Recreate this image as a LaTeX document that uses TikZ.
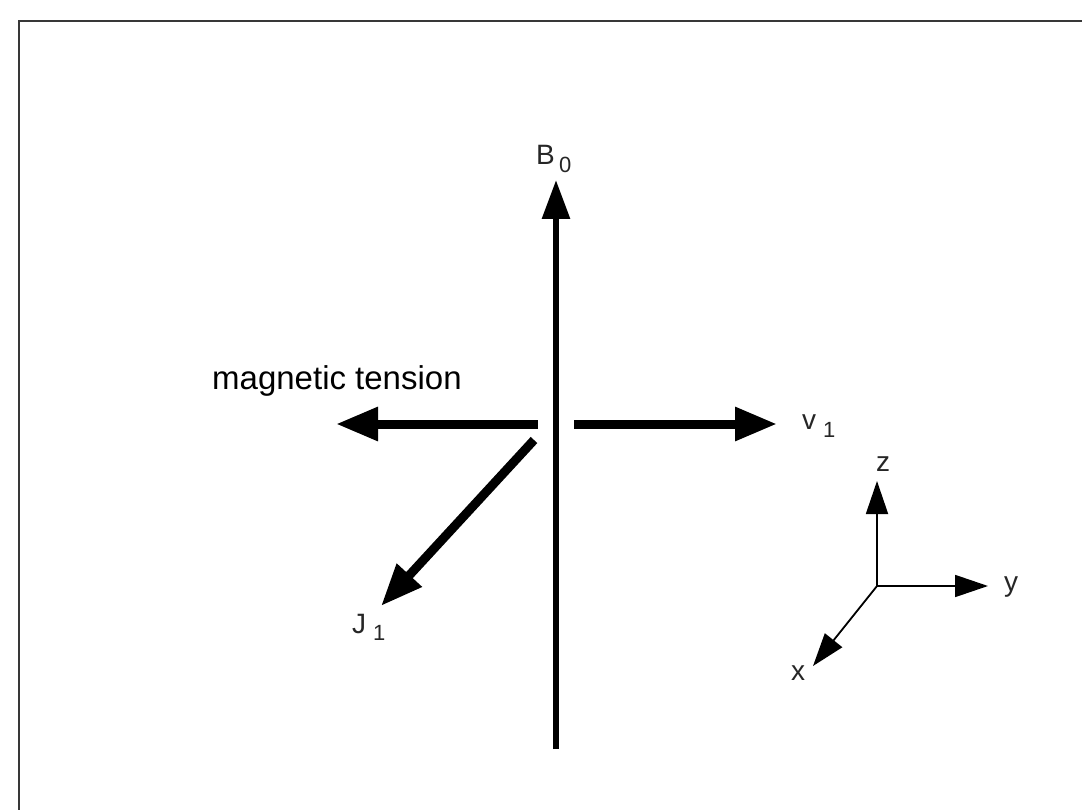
\documentclass[tikz,border=0pt]{standalone}
\usepackage{fontspec}
\setmainfont{Liberation Sans}
\usetikzlibrary{arrows.meta}
\tikzset{
  bigarrow/.style={line width=9pt, -{Triangle[length=42pt,width=32pt]}},
  midarrow/.style={line width=6pt, -{Triangle[length=39pt,width=27pt]}},
  axisarrow/.style={line width=1.8pt, -{Triangle[length=33pt,width=22pt]}},
  lbl/.style={inner sep=0pt, anchor=base west, text=black!85, font=\fontsize{28}{32}\selectfont},
  sub/.style={inner sep=0pt, anchor=base west, text=black!85, font=\fontsize{22}{26}\selectfont},
  frameline/.style={line width=2.2pt, draw=black!78}
}
\begin{document}
\begin{tikzpicture}[x=1pt,y=-1pt]
\useasboundingbox (0,0) rectangle (1082,810);
% frame (top and left only)
\coordinate (fTL) at (19,21);
\coordinate (fTR) at (1082,21);
\coordinate (fBL) at (19,810);
\draw[frameline] (fTR) -- (fTL) -- (fBL);
% B0 axis
\coordinate (bBot) at (556,749);
\coordinate (bTop) at (556,180);
\draw[midarrow] (bBot) -- (bTop);
\node[lbl] (B) at (536,165) {B};
\node[sub] (B0) at (559,173) {0};
% magnetic tension
\coordinate (mStart) at (538,424);
\coordinate (mTip) at (336,424);
\draw[bigarrow] (mStart) -- (mTip);
\node[inner sep=0pt, anchor=base west, font=\fontsize{33}{38}\selectfont] (mt) at (212,389) {magnetic tension};
% v1
\coordinate (vStart) at (574,424);
\coordinate (vTip) at (777,424);
\draw[bigarrow] (vStart) -- (vTip);
\node[lbl] (v) at (802,429) {v};
\node[sub] (v1) at (823,437) {1};
% J1
\coordinate (jStart) at (534,440);
\coordinate (jTip) at (381,606);
\draw[bigarrow] (jStart) -- (jTip);
\node[lbl] (J) at (352,633) {J};
\node[sub] (J1) at (373,640) {1};
% coordinate axes
\coordinate (O) at (877,586);
\coordinate (zTip) at (877,481);
\coordinate (yTip) at (988,586);
\coordinate (xTip) at (813,666);
\draw[axisarrow] (O) -- (zTip);
\draw[axisarrow] (O) -- (yTip);
\draw[axisarrow] (O) -- (xTip);
\node[lbl, anchor=base] (zl) at (883,471) {z};
\node[lbl] (yl) at (1004,591) {y};
\node[lbl] (xl) at (791,680) {x};
\end{tikzpicture}
\end{document}
